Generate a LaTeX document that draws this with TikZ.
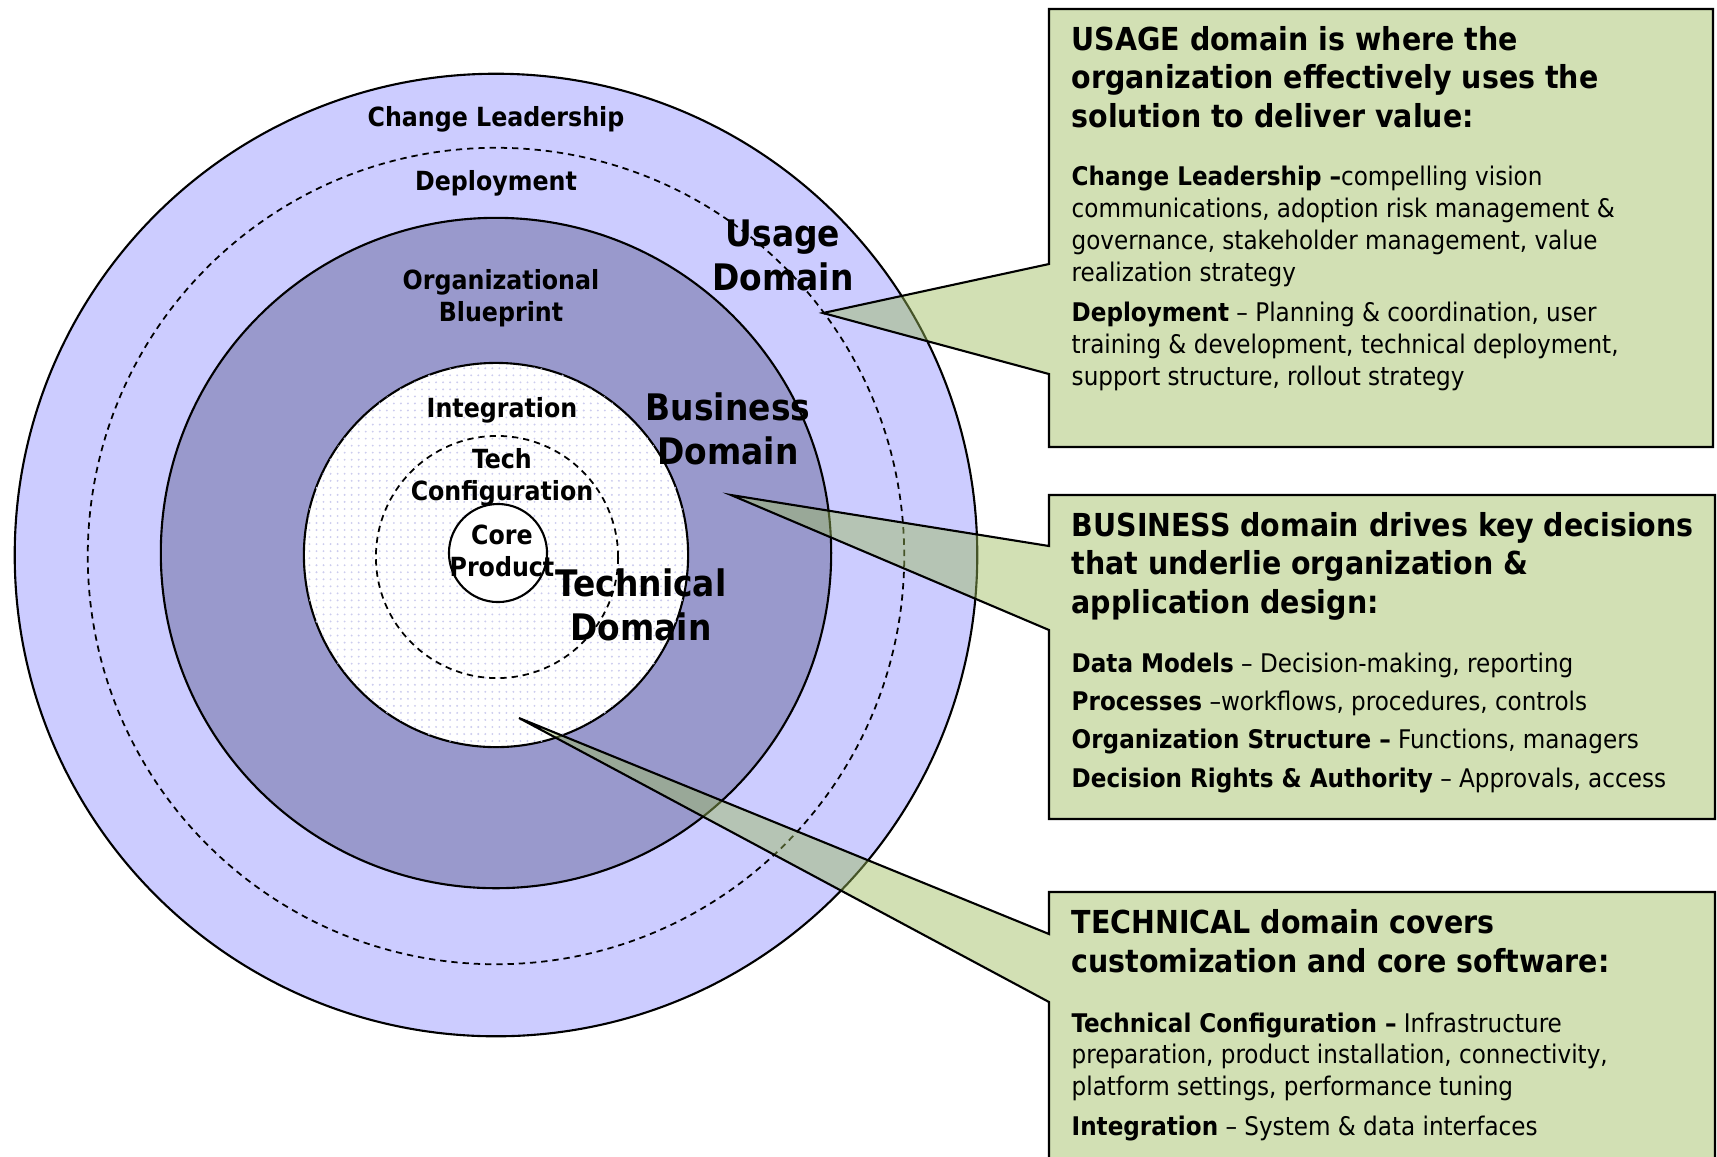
\documentclass[tikz,border=0pt]{standalone}
\usepackage{fontspec}
\setmainfont{DejaVu Sans Condensed}
\usetikzlibrary{patterns.meta}
\definecolor{usageblue}{HTML}{CCCCFF}
\definecolor{businessblue}{HTML}{9999CC}
\definecolor{dotblue}{HTML}{CCCCEE}
\definecolor{calloutgreen}{HTML}{9BBB59}
% faint dot grid for the technical core
\tikzdeclarepattern{name=softdots, type=uncolored,
  bottom left={(-1pt,-1pt)}, top right={(1pt,1pt)}, tile size={(2pt,2pt)},
  code={\fill (0pt,0pt) circle (0.3pt);}}
\begin{document}
\begin{tikzpicture}[x=0.01cm, y=-0.01cm,
  ring/.style={circle, draw, line width=0.6pt, inner sep=0pt},
  dashring/.style={circle, draw, line width=0.5pt, dash pattern=on 1.8pt off 1.4pt, inner sep=0pt},
  lbl/.style={font=\bfseries\fontsize{7.5}{9.1}\selectfont, align=center, inner sep=0pt},
  biglbl/.style={font=\bfseries\fontsize{10.4}{12.5}\selectfont, align=center, inner sep=0pt},
  callout/.style={draw, line width=0.6pt, fill=calloutgreen, fill opacity=0.45},
  head/.style={anchor=base west, align=left, inner sep=0pt, font=\bfseries\fontsize{9}{10.9}\selectfont},
  body/.style={anchor=base west, align=left, inner sep=0pt, font=\fontsize{7.3}{9.05}\selectfont}]
  \clip (0,0) rectangle (1717,1156);
  % rings, outside in
  \node[ring, fill=usageblue, minimum size=9.62cm] (usage) at (496,555) {};
  \node[dashring, minimum size=8.16cm] (deploy) at (496,556) {};
  \node[ring, fill=businessblue, minimum size=6.70cm] (business) at (496,553) {};
  \node[ring, fill=white, postaction={pattern=softdots, pattern color=dotblue}, minimum size=3.84cm] (technical) at (496,555) {};
  \node[dashring, minimum size=2.42cm] (techcfg) at (497,557) {};
  \node[ring, fill=white, minimum size=0.98cm] (core) at (498,553) {};
  % ring labels
  \node[lbl] (changelbl) at (496,119) {Change Leadership};
  \node[lbl] (deploylbl) at (496,183) {Deployment};
  \node[lbl] (blueprintlbl) at (501,298) {Organizational\\Blueprint};
  \node[lbl] (integrationlbl) at (502,410) {Integration};
  \node[lbl] (techcfglbl) at (502,477) {Tech\\Configuration};
  \node[lbl] (corelbl) at (502,551) {Core\\Product};
  \node[biglbl] (usagelbl) at (783,255) {Usage\\Domain};
  \node[biglbl] (businesslbl) at (728,429) {Business\\Domain};
  \node[biglbl] (technicallbl) at (641,605) {Technical\\Domain};
  % callout tips
  \coordinate (usagetip) at (823,313);
  \coordinate (businesstip) at (731,495);
  \coordinate (technicaltip) at (519,718);
  % callout boxes
  \draw[callout] (1049,9) -| (1713,447) -| (1049,374) -- (usagetip) -- (1049,264) -- cycle;
  \draw[callout] (1049,495) -| (1715,819) -| (1049,630) -- (businesstip) -- (1049,546) -- cycle;
  \draw[callout] (1049,892) -| (1715,1180) -| (1049,1002) -- (technicaltip) -- (1049,934) -- cycle;
  % usage text (base = last line)
  \node[head] (usagehead) at (1071,127) {USAGE domain is where the\\organization effectively uses the\\solution to deliver value:};
  \node[body] (usagebody) at (1071,385) {\textbf{Change Leadership --}compelling vision\\communications, adoption risk management \&\\governance, stakeholder management, value\\realization strategy\\[2.3pt]\textbf{Deployment} -- Planning \& coordination, user\\training \& development, technical deployment,\\support structure, rollout strategy};
  % business text
  \node[head] (businesshead) at (1071,613) {BUSINESS domain drives key decisions\\that underlie organization \&\\application design:};
  \node[body] (businessbody) at (1071,787) {\textbf{Data Models} -- Decision-making, reporting\\[1.85pt]\textbf{Processes} --workflows, procedures, controls\\[1.85pt]\textbf{Organization Structure --} Functions, managers\\[1.85pt]\textbf{Decision Rights \& Authority} -- Approvals, access};
  % technical text
  \node[head] (technicalhead) at (1071,972) {TECHNICAL domain covers\\customization and core software:};
  \node[body] (technicalbody) at (1071,1135) {\textbf{Technical Configuration --} Infrastructure\\preparation, product installation, connectivity,\\platform settings, performance tuning\\[2.1pt]\textbf{Integration} -- System \& data interfaces};
\end{tikzpicture}
\end{document}
